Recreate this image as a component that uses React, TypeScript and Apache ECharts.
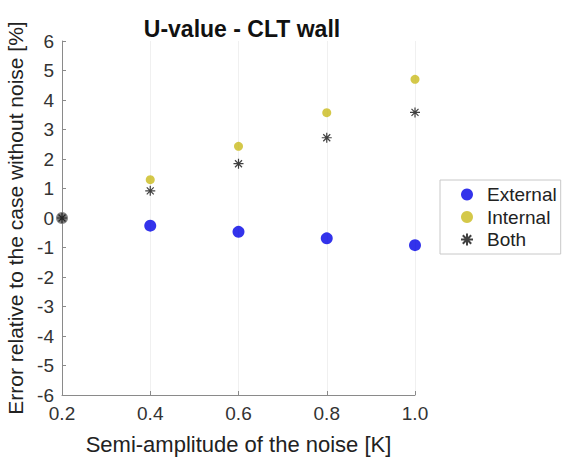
import React, { useEffect, useRef } from "react";
import * as echarts from "echarts";

const noiseAmplitude = [0.2, 0.4, 0.6, 0.8, 1.0];
const externalError = [0, -0.26, -0.47, -0.69, -0.92];
const internalError = [0, 1.3, 2.43, 3.57, 4.7];
const bothError = [0, 0.92, 1.84, 2.72, 3.58];
const yTicks = [-6, -5, -4, -3, -2, -1, 0, 1, 2, 3, 4, 5, 6];

const FONT = "Liberation Sans, Arial, Helvetica, sans-serif";
const ASTERISK =
  "path://M5,0 L5,10 M0,5 L10,5 M1.5,1.5 L8.5,8.5 M1.5,8.5 L8.5,1.5";

export default function App() {
  const ref = useRef<HTMLDivElement>(null);
  useEffect(() => {
    if (!ref.current) return;
    const chart = echarts.init(ref.current, undefined, { renderer: "svg" });
    const pts = (ys: number[]) => noiseAmplitude.map((x, i) => [x, ys[i]]);
    const withFirstColor = (ys: number[], c: string) =>
      pts(ys).map((p, i) => (i === 0 ? { value: p, itemStyle: { color: c } } : p));
    chart.setOption({
      animation: false,
      backgroundColor: "#ffffff",
      textStyle: { fontFamily: FONT },
      title: {
        text: "U-value - CLT wall",
        left: 237,
        textAlign: "center",
        top: 12,
        textStyle: { fontFamily: FONT, fontSize: 23, fontWeight: "bold", color: "#111" },
      },
      grid: {
        left: 62,
        right: 150,
        top: 41,
        bottom: 64,
        containLabel: false,
        outerBoundsMode: "none",
      },
      legend: {
        orient: "vertical",
        left: 440,
        top: 180,
        padding: [5, 4, 5, 20],
        itemGap: 3.5,
        itemWidth: 14,
        itemHeight: 12,
        borderColor: "#c8c8c8",
        borderWidth: 1,
        textStyle: { fontFamily: FONT, fontSize: 19, color: "#222", padding: [0, 0, 0, 8] },
        data: ["External", "Internal", "Both"],
      },
      xAxis: {
        type: "value",
        min: 0.2,
        max: 1.0,
        interval: 0.2,
        name: "Semi-amplitude of the noise [K]",
        nameLocation: "middle",
        nameGap: 38,
        nameTextStyle: { fontFamily: FONT, fontSize: 22, color: "#222" },
        axisLine: { show: true, onZero: false, lineStyle: { color: "#8a8a8a", width: 1 } },
        axisTick: { show: true, inside: true, length: 4, lineStyle: { color: "#8a8a8a" } },
        axisLabel: {
          fontFamily: FONT,
          fontSize: 19,
          color: "#333",
          margin: 9,
          formatter: (v: number) => v.toFixed(1),
        },
        splitLine: { show: true, lineStyle: { color: "#f0f0f0", width: 1 } },
      },
      yAxis: {
        type: "value",
        min: yTicks[0],
        max: yTicks[yTicks.length - 1],
        interval: 1,
        name: "Error relative to the case without noise [%]",
        nameLocation: "middle",
        nameGap: 33,
        nameTextStyle: { fontFamily: FONT, fontSize: 21, color: "#222" },
        axisLine: { show: true, onZero: false, lineStyle: { color: "#8a8a8a", width: 1 } },
        axisTick: { show: true, inside: true, length: 4, lineStyle: { color: "#8a8a8a" } },
        axisLabel: { fontFamily: FONT, fontSize: 19, color: "#333", margin: 8 },
        splitLine: { show: false },
      },
      series: [
        {
          name: "External",
          type: "scatter",
          symbol: "circle",
          symbolSize: 12,
          itemStyle: { color: "#0000e6" },
          data: withFirstColor(externalError, "#666666"),
          z: 2,
        },
        {
          name: "Internal",
          type: "scatter",
          symbol: "circle",
          symbolSize: 9,
          itemStyle: { color: "#c9ba1c" },
          data: withFirstColor(internalError, "#777777"),
          z: 3,
        },
        {
          name: "Both",
          type: "scatter",
          symbol: ASTERISK,
          symbolSize: 10,
          itemStyle: { color: "transparent", borderColor: "#111", borderWidth: 1.2 },
          data: pts(bothError),
          z: 4,
        },
      ],
    });
    return () => chart.dispose();
  }, []);
  return <div ref={ref} style={{ width: 565, height: 459, position: "absolute", left: 0, top: 0 }} />;
}
